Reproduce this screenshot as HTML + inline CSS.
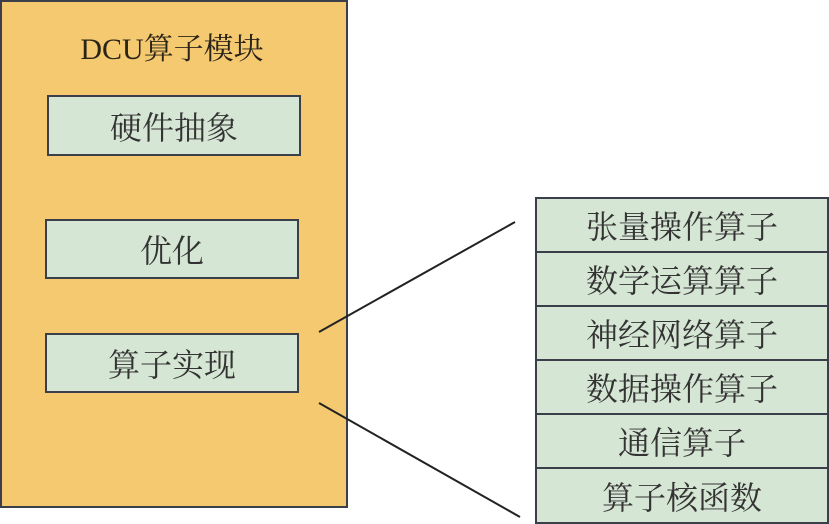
<!DOCTYPE html>
<html><head><meta charset="utf-8"><style>
body{margin:0;width:829px;height:524px;background:#fff;position:relative;overflow:hidden;font-family:"Liberation Serif","Noto Serif CJK SC",serif;color:#222}
div{position:absolute;box-sizing:border-box}
.o{left:0;top:0;width:348px;height:508px;background:#F4C970;border:2px solid #3a3f4a}
.b{background:#D6E6D4;border:2px solid #3a3f4a;display:flex;align-items:center;justify-content:center;font-size:32px;color:#333}
.r{left:535px;width:294px;height:56px}
</style></head><body>
<div class="o"></div>
<div style="left:0;width:344px;top:28px;text-align:center;font-size:30px;line-height:44px;color:#2a2418">DCU算子模块</div>
<div class="b" style="left:47px;top:95px;width:254px;height:61px">硬件抽象</div>
<div class="b" style="left:45px;top:219px;width:254px;height:60px">优化</div>
<div class="b" style="left:45px;top:333px;width:254px;height:60px">算子实现</div>
<div class="b r" style="top:197px">张量操作算子</div>
<div class="b r" style="top:251px">数学运算算子</div>
<div class="b r" style="top:305px">神经网络算子</div>
<div class="b r" style="top:359px">数据操作算子</div>
<div class="b r" style="top:413px">通信算子</div>
<div class="b r" style="top:467px;height:57px">算子核函数</div>
<svg width="829" height="524" style="position:absolute;left:0;top:0">
<line x1="319" y1="332" x2="515" y2="222" stroke="#222" stroke-width="2"/>
<line x1="319" y1="403" x2="520" y2="517" stroke="#222" stroke-width="2"/>
</svg>
</body></html>
